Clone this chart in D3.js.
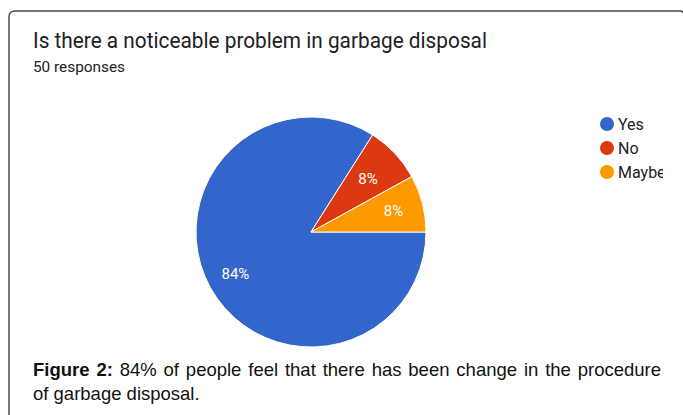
<!DOCTYPE html>
<html><head><meta charset="utf-8">
<script src="https://cdn.jsdelivr.net/npm/d3@7"></script>
<style>html,body{margin:0;padding:0;background:#fff;overflow:hidden}</style>
</head><body>
<svg id="c" width="683" height="415"></svg>
<script>
const categories = ["Yes", "No", "Maybe"];
const values = [42, 4, 4];
const colors = ["#3366cc", "#dc3912", "#ff9900"];
const titleText = "Is there a noticeable problem in garbage disposal";
const subtitleText = "50 responses";
const captionBold = "Figure 2:";
const captionLine1 = " 84% of people feel that there has been change in the procedure";
const captionLine2 = "of garbage disposal.";

const svg = d3.select("#c");
// card border (extends past the right/bottom edges)
svg.append("path")
  .attr("d", "M9,420 L9,17 Q9,11 15,11 L680,11 Q683,11 684,14")
  .attr("fill", "none").attr("stroke", "#4a4a4a").attr("stroke-width", 1.5);

svg.append("text").attr("x", 33).attr("y", 48)
  .attr("font-family", "Roboto, sans-serif").attr("font-size", 22.5)
  .attr("fill", "#202124").attr("textLength", 454).attr("lengthAdjust", "spacingAndGlyphs")
  .text(titleText);

svg.append("text").attr("x", 33).attr("y", 72)
  .attr("font-family", "Roboto, sans-serif").attr("font-size", 14.5)
  .attr("fill", "#202124").attr("textLength", 92).attr("lengthAdjust", "spacingAndGlyphs")
  .text(subtitleText);

// pie
const cx = 311, cy = 232, r = 115;
const total = d3.sum(values);
const pie = d3.pie().sort(null).value(d => d)
  .startAngle(Math.PI / 2).endAngle(Math.PI / 2 + 2 * Math.PI);
const arcs = pie(values);
const arc = d3.arc().innerRadius(0).outerRadius(r);
const g = svg.append("g").attr("transform", `translate(${cx},${cy})`);
g.selectAll("path").data(arcs).join("path")
  .attr("d", arc).attr("fill", (d, i) => colors[i])
  .attr("stroke", "#fff").attr("stroke-width", 1);
const labelArcs = [0.75, 0.68, 0.74];
g.selectAll("text").data(arcs).join("text")
  .attr("transform", (d, i) => {
    const a = (d.startAngle + d.endAngle) / 2;
    const rr = r * labelArcs[i];
    return `translate(${Math.sin(a) * rr},${-Math.cos(a) * rr})`;
  })
  .attr("text-anchor", "middle").attr("dy", "0.35em")
  .attr("font-family", "Roboto, sans-serif").attr("font-size", 15)
  .attr("fill", "#fff")
  .text(d => Math.round(d.value / total * 100) + "%");

// legend
svg.append("clipPath").attr("id", "lc").append("rect")
  .attr("x", 590).attr("y", 100).attr("width", 73).attr("height", 100);
const lg = svg.append("g").attr("clip-path", "url(#lc)");
const ly = d3.scalePoint().domain(categories).range([124, 172]);
categories.forEach((c, i) => {
  lg.append("circle").attr("cx", 607).attr("cy", ly(c)).attr("r", 7).attr("fill", colors[i]);
  lg.append("text").attr("x", 618).attr("y", ly(c)).attr("dy", "0.35em")
    .attr("font-family", "Roboto, sans-serif").attr("font-size", 16)
    .attr("fill", "#222").text(c);
});

// caption
const cap = svg.append("text").attr("x", 33).attr("y", 376)
  .attr("font-family", "Liberation Sans, Arial, sans-serif").attr("font-size", 18.5)
  .attr("fill", "#111");
cap.append("tspan").attr("font-weight", "bold").text(captionBold);
cap.append("tspan").text(captionLine1);
const natural = cap.node().getComputedTextLength();
const spaces = (captionBold + captionLine1).split(" ").length - 1;
cap.attr("word-spacing", (661 - 33 - natural) / spaces);
svg.append("text").attr("x", 33).attr("y", 400)
  .attr("font-family", "Liberation Sans, Arial, sans-serif").attr("font-size", 18.5)
  .attr("fill", "#111").text(captionLine2);
</script>
</body></html>
